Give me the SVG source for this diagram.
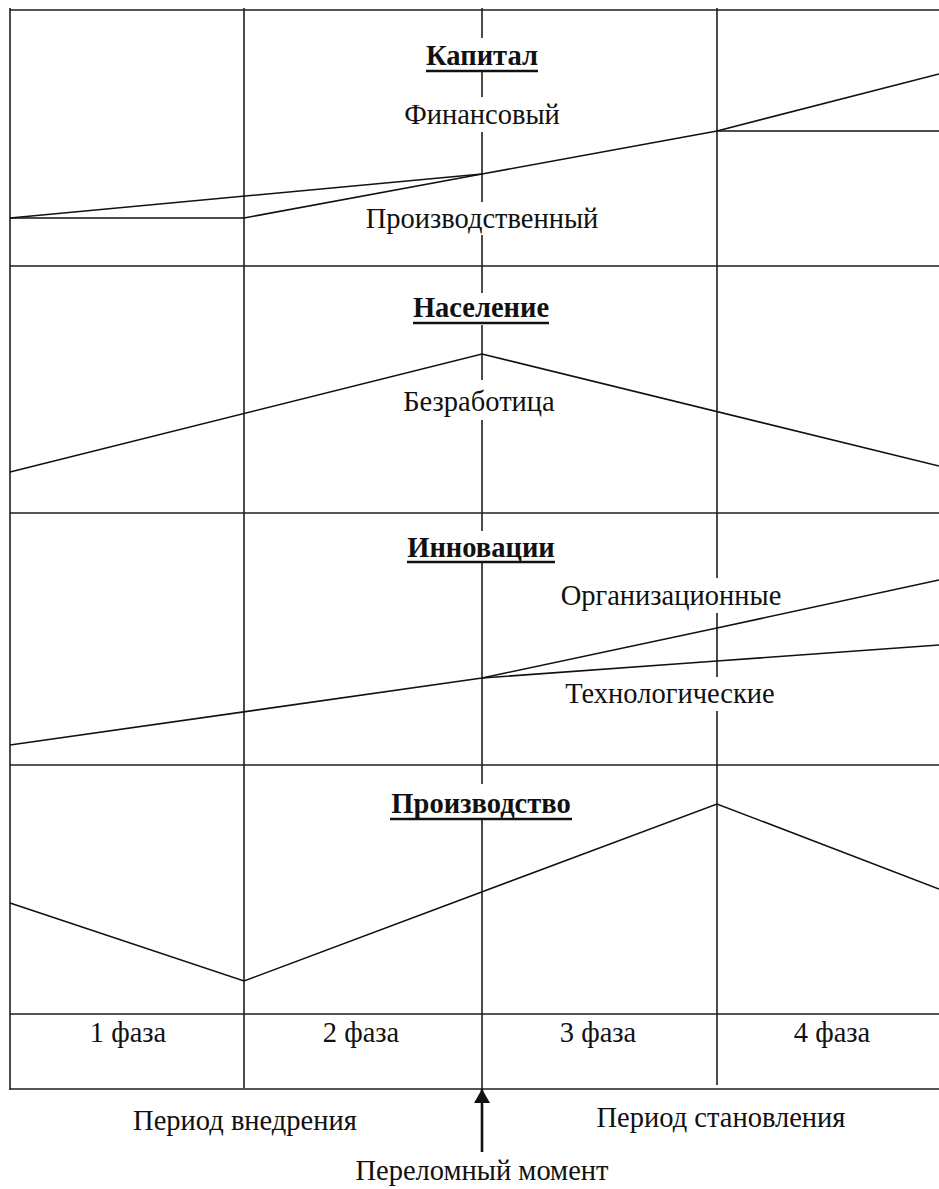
<svg xmlns="http://www.w3.org/2000/svg" width="939" height="1189" viewBox="0 0 939 1189">
<style>
.g{stroke:#1e1e1e;stroke-width:1.6;fill:none}
.c{stroke:#111;stroke-width:1.6;fill:none;stroke-linejoin:miter}
.t{font-family:"Liberation Serif","Times New Roman",serif;font-size:28.5px;fill:#111;text-anchor:middle}
.b{font-weight:bold}
.u{stroke:#111;stroke-width:2.4}
</style>
<defs>
<marker id="ah" viewBox="0 0 14 16" refX="14" refY="8" markerWidth="14" markerHeight="16" markerUnits="userSpaceOnUse" orient="auto">
<path d="M0,0 L14,8 L0,16 Z" fill="#111"/>
</marker>
</defs>
<rect width="939" height="1189" fill="#fff"/>
<g id="grid" class="g">
<line x1="10" y1="10" x2="939" y2="10"/>
<line x1="10" y1="8" x2="10" y2="1090"/>
<line x1="10" y1="266" x2="939" y2="266"/>
<line x1="10" y1="513" x2="939" y2="513"/>
<line x1="10" y1="765" x2="939" y2="765"/>
<line x1="10" y1="1014" x2="939" y2="1014"/>
<line x1="10" y1="1089" x2="939" y2="1089"/>
<line x1="244" y1="8" x2="244" y2="1088"/>
<path d="M482,8V38M482,72V97M482,132V202M482,235V293M482,325V380M482,420V531M482,563V784M482,820V1089"/>
<path d="M717,8V578M717,613V677M717,711V1085"/>
</g>
<g id="connectors" class="c">
<polyline points="10,218 244,218 482,174"/>
<polyline points="10,218 482,174 717,131 939,74"/>
<line x1="717" y1="131" x2="939" y2="131"/>
<polyline points="10,472 482,354 939,466"/>
<polyline points="10,745 482,678 717,628 939,580"/>
<polyline points="482,678 717,661 939,645"/>
<polyline points="10,903 244,981 717,804 939,889"/>
<line x1="482" y1="1152" x2="482" y2="1089" stroke-width="2.6" marker-end="url(#ah)"/>
</g>
<g id="kapital">
<text class="t b" x="482" y="65">Капитал</text>
<line class="u" x1="426" y1="71" x2="538" y2="71"/>
<text class="t" x="482" y="124">Финансовый</text>
<text class="t" x="482" y="228">Производственный</text>
</g>
<g id="naselenie">
<text class="t b" x="481" y="317">Население</text>
<line class="u" x1="413" y1="323" x2="549" y2="323"/>
<text class="t" x="479" y="411">Безработица</text>
</g>
<g id="innovacii">
<text class="t b" x="481" y="557">Инновации</text>
<line class="u" x1="407" y1="562" x2="555" y2="562"/>
<text class="t" x="671" y="605">Организационные</text>
<text class="t" x="670" y="703">Технологические</text>
</g>
<g id="proizvodstvo">
<text class="t b" x="481" y="813">Производство</text>
<line class="u" x1="390" y1="819" x2="572" y2="819"/>
</g>
<g id="phases">
<text class="t" x="128" y="1042">1 фаза</text>
<text class="t" x="361" y="1042">2 фаза</text>
<text class="t" x="598" y="1042">3 фаза</text>
<text class="t" x="832" y="1042">4 фаза</text>
</g>
<g id="periods">
<text class="t" x="245" y="1130">Период внедрения</text>
<text class="t" x="721" y="1127">Период становления</text>
<text class="t" x="482" y="1180">Переломный момент</text>
</g>
</svg>
